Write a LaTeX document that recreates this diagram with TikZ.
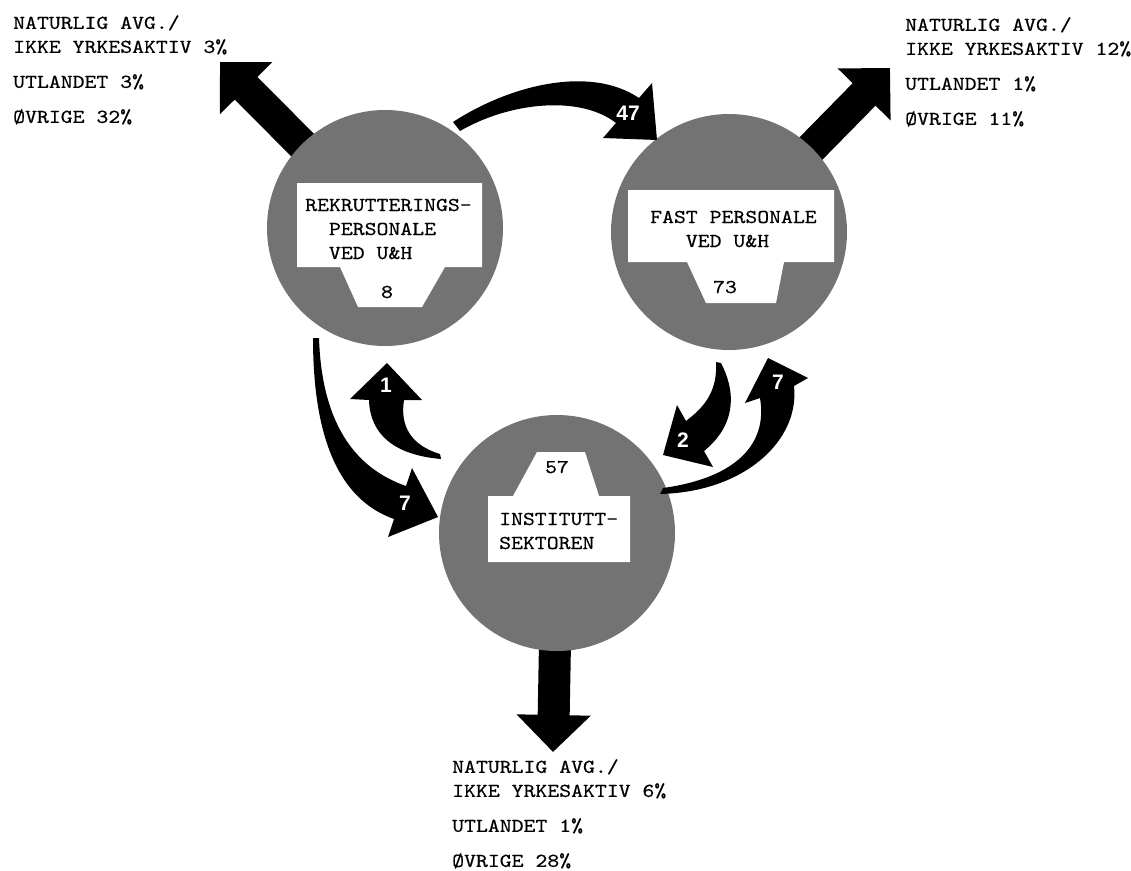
\documentclass[tikz,border=0pt]{standalone}
\usepackage{fontspec}
\usetikzlibrary{arrows.meta}
\newfontfamily\tw{lmmono10-regular.otf}[FakeStretch=1.15,FakeBold=0.4]
\newfontfamily\hv{Liberation Sans}
\definecolor{screen}{gray}{0.45}

\begin{document}
\begin{tikzpicture}[x=1pt,y=-1pt,
  disc/.style={circle,fill=screen,minimum size=236pt,inner sep=0pt},
  fatarrow/.style={line width=32pt,-{Triangle[length=37pt,width=72pt]}},
  flowno/.style={text=white,inner sep=0pt,font=\hv\bfseries\fontsize{21}{21}\selectfont},
  txt/.style={inner sep=0pt,font=\tw\fontsize{19.7}{24}\selectfont},
  outtxt/.style={txt,align=left,anchor=north west}]
\useasboundingbox (0,0) rectangle (1131,870);

% centres and outflow tips
\coordinate (c1) at (385,228);
\coordinate (c2) at (729,232);
\coordinate (c3) at (557,533);
\coordinate (tipTL) at (220,62);
\coordinate (tipTR) at (890,68);
\coordinate (tipB) at (553,752);

\draw[fatarrow] (c1) -- (tipTL);
\draw[fatarrow] (c2) -- (tipTR);
\draw[fatarrow] (c3) -- (tipB);

\node[disc] (rek) at (c1) {};
\node[disc] (fast) at (c2) {};
\node[disc] (inst) at (c3) {};

% label cards
\fill[white] (297,183) -- (482,183) -- (482,267) -- (445,267) -- (422,307)
  -- (358,307) -- (340,267) -- (297,267) -- cycle;
\fill[white] (628,190) -- (834,190) -- (834,262) -- (784,262) -- (776,303)
  -- (706,303) -- (687,262) -- (628,262) -- cycle;
\fill[white] (488,496) -- (513,496) -- (537,452) -- (585,452) -- (599,496)
  -- (630,496) -- (630,562) -- (488,562) -- cycle;

\node[txt,align=left,anchor=west] (lblRek) at (305,229)
  {REKRUTTERINGS-\\\phantom{RE}PERSONALE\\\phantom{RE}VED U\&H};
\node[txt,align=left,anchor=west] (lblFast) at (650,229)
  {FAST PERSONALE\\\phantom{FAS}VED U\&H};
\node[txt,align=left,anchor=west] (lblInst) at (499,531)
  {INSTITUTT-\\SEKTOREN};
\node[txt] (numRek) at (387,292) {8};
\node[txt] (numFast) at (725,287) {73};
\node[txt] (numInst) at (557,467) {57};

% outflow texts
\node[outtxt] (outRek) at (13,15)
  {NATURLIG AVG./\\IKKE YRKESAKTIV 3\%\\[11pt]UTLANDET 3\%\\[11pt]ØVRIGE 32\%};
\node[outtxt] (outFast) at (905,17)
  {NATURLIG AVG./\\IKKE YRKESAKTIV 12\%\\[11pt]UTLANDET 1\%\\[11pt]ØVRIGE 11\%};
\node[outtxt] (outInst) at (452,759)
  {NATURLIG AVG./\\IKKE YRKESAKTIV 6\%\\[11pt]UTLANDET 1\%\\[11pt]ØVRIGE 28\%};

% flows between the groups
\fill (453,122) .. controls (510,85) and (590,65) .. (639,98) -- (652,83)
  -- (657,140) -- (603,138) -- (616,123) .. controls (580,95) and (510,102) .. (460,131) -- cycle;
\fill (313,338) .. controls (313,440) and (340,500) .. (394,519) -- (388,537)
  -- (438,517) -- (412,468) -- (406,486) .. controls (360,470) and (322,430) .. (319,338) -- cycle;
\fill (441,459) -- (440,454) .. controls (410,445) and (400,425) .. (404,400) -- (422,400)
  -- (387,363) -- (350,399) -- (369,400) .. controls (370,435) and (395,455) .. (441,459) -- cycle;
\fill (716,362) -- (721,363) .. controls (740,400) and (730,430) .. (704,451) -- (713,467)
  -- (663,455) -- (677,405) -- (686,421) .. controls (700,410) and (718,395) .. (716,362) -- cycle;
\fill (660,494) -- (663,488) .. controls (735,478) and (768,445) .. (760,398) -- (745,403)
  -- (768,358) -- (808,378) -- (794,386) .. controls (800,440) and (745,492) .. (660,494) -- cycle;

\node[flowno] (no47) at (628,113) {47};
\node[flowno] (no7a) at (405,503) {7};
\node[flowno] (no1) at (386,385) {1};
\node[flowno] (no2) at (683,440) {2};
\node[flowno] (no7b) at (778,382) {7};
\end{tikzpicture}
\end{document}
